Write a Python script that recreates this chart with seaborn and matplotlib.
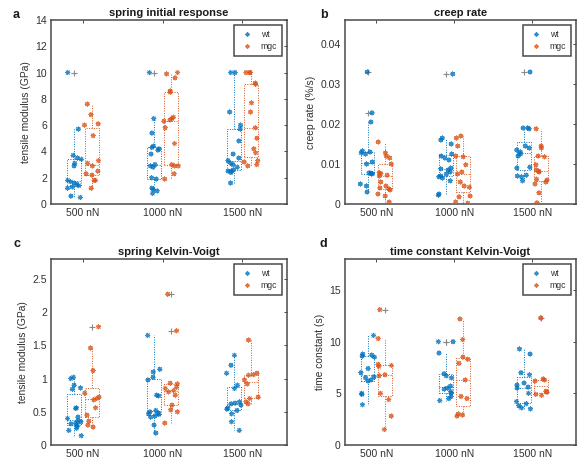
import numpy as np
import pandas as pd
import matplotlib
matplotlib.use("Agg")
import matplotlib.pyplot as plt
from matplotlib.lines import Line2D
from matplotlib.ticker import FuncFormatter
import seaborn as sns

sns.set_style("white")
plt.rcParams["font.family"] = ["Liberation Sans", "DejaVu Sans"]

loads = ["500 nN", "1000 nN", "1500 nN"]
groups = ["wt", "mgc"]
colors = {"wt": "#0072BD", "mgc": "#D95319"}

# spring initial response, tensile modulus (GPa)
a_wt_500 = [10, 5.7, 3.7, 3.5, 3.4, 3.1, 2.9, 1.8, 1.7, 1.6, 1.5, 1.4, 1.3, 1.2, 0.6, 0.5]
a_wt_1000 = [10, 6.5, 5.4, 4.4, 4.3, 4.2, 4.1, 3.8, 3.0, 2.9, 2.8, 2.0, 1.9, 1.2, 1.1, 1.0, 0.8]
a_wt_1500 = [10, 10, 7.0, 6.0, 5.7, 4.8, 3.8, 3.5, 3.3, 3.1, 3.0, 2.8, 2.6, 2.5, 2.5, 2.4, 1.6]
a_mgc_500 = [7.6, 6.8, 6.1, 6.0, 5.2, 3.3, 3.1, 2.9, 2.5, 2.3, 2.2, 1.8, 1.8, 1.2]
a_mgc_1000 = [10, 9.9, 9.6, 8.6, 8.5, 6.6, 6.5, 6.4, 6.3, 5.8, 4.6, 3.0, 2.9, 2.9, 2.3, 1.9]
a_mgc_1500 = [10, 10, 10, 9.2, 9.1, 7.7, 7.0, 5.8, 5.0, 4.2, 3.9, 3.3, 3.2, 3.0, 2.9]

# creep rate (%/s)
b_wt_500 = [0.033, 0.0228, 0.0205, 0.0133, 0.013, 0.0128, 0.0125, 0.0105, 0.010,
            0.0078, 0.0077, 0.0076, 0.0075, 0.005, 0.0045, 0.003]
b_wt_1000 = [0.0325, 0.0165, 0.016, 0.015, 0.0125, 0.012, 0.0115, 0.011, 0.009, 0.0088,
             0.0085, 0.008, 0.0075, 0.007, 0.0068, 0.0065, 0.0058, 0.0025, 0.0022]
b_wt_1500 = [0.033, 0.019, 0.019, 0.0188, 0.0145, 0.014, 0.0135, 0.013, 0.0125, 0.012,
             0.0092, 0.009, 0.0072, 0.007, 0.0068, 0.0058]
b_mgc_500 = [0.0155, 0.0128, 0.012, 0.0115, 0.0100, 0.0078, 0.0076, 0.0072, 0.007, 0.0055,
             0.0045, 0.004, 0.0038, 0.0035, 0.0025, 0.002, 0.0005]
b_mgc_1000 = [0.017, 0.0165, 0.0145, 0.012, 0.0118, 0.0098, 0.008, 0.0075, 0.0055, 0.0045,
              0.0042, 0.002, 0.0018, 0.0005, 0.0002]
b_mgc_1500 = [0.0188, 0.0145, 0.014, 0.012, 0.0118, 0.0098, 0.0085, 0.0082, 0.008, 0.0062,
              0.006, 0.0055, 0.005, 0.0028, 0.0003]

# spring Kelvin-Voigt, tensile modulus (GPa)
c_wt_500 = [1.02, 1.0, 0.9, 0.86, 0.84, 0.56, 0.55, 0.42, 0.4, 0.36, 0.35, 0.33, 0.32,
            0.3, 0.28, 0.25, 0.22, 0.14]
c_wt_1000 = [1.65, 1.14, 1.1, 1.02, 0.98, 0.75, 0.74, 0.52, 0.5, 0.48, 0.47, 0.46, 0.44,
             0.42, 0.3, 0.18]
c_wt_1500 = [1.35, 1.2, 1.08, 0.9, 0.85, 0.65, 0.63, 0.62, 0.6, 0.56, 0.54, 0.52, 0.47,
             0.35, 0.22]
c_mgc_500 = [1.78, 1.46, 1.12, 0.78, 0.72, 0.7, 0.68, 0.56, 0.45, 0.36, 0.3, 0.27]
c_mgc_1000 = [2.27, 1.72, 0.93, 0.92, 0.87, 0.85, 0.82, 0.8, 0.75, 0.6, 0.53, 0.5, 0.33]
c_mgc_1500 = [1.58, 1.08, 1.06, 1.05, 0.98, 0.92, 0.72, 0.7, 0.65, 0.62]

# time constant Kelvin-Voigt (s)
d_wt_500 = [10.6, 8.8, 8.7, 8.6, 8.5, 7.4, 7.0, 6.6, 6.5, 6.3, 6.2, 5.0, 4.9, 3.9]
d_wt_1000 = [10, 10, 8.9, 6.9, 6.7, 6.5, 5.7, 5.5, 5.4, 5.2, 5.0, 4.7, 4.5, 4.3]
d_wt_1500 = [9.3, 8.8, 7.0, 6.8, 6.0, 5.8, 5.6, 5.5, 5.0, 4.2, 4.0, 3.8, 3.6, 3.5]
d_mgc_500 = [13.1, 10.3, 7.8, 7.7, 7.6, 6.8, 6.7, 5.0, 4.4, 2.8, 1.5]
d_mgc_1000 = [12.2, 10.2, 8.5, 8.3, 7.9, 6.3, 4.7, 4.5, 3.0, 2.9, 2.8]
d_mgc_1500 = [12.3, 6.4, 6.3, 6.2, 5.2, 5.1, 4.9, 4.8]

panels = [
    dict(letter="a", title="spring initial response", ylabel="tensile modulus (GPa)",
         wt=[a_wt_500, a_wt_1000, a_wt_1500], mgc=[a_mgc_500, a_mgc_1000, a_mgc_1500],
         ylim=(0, 14), yticks=np.arange(0, 15, 2)),
    dict(letter="b", title="creep rate", ylabel="creep rate (%/s)",
         wt=[b_wt_500, b_wt_1000, b_wt_1500], mgc=[b_mgc_500, b_mgc_1000, b_mgc_1500],
         ylim=(0, 0.046), yticks=[0, 0.01, 0.02, 0.03, 0.04]),
    dict(letter="c", title="spring Kelvin-Voigt", ylabel="tensile modulus (GPa)",
         wt=[c_wt_500, c_wt_1000, c_wt_1500], mgc=[c_mgc_500, c_mgc_1000, c_mgc_1500],
         ylim=(0, 2.8), yticks=[0, 0.5, 1, 1.5, 2, 2.5]),
    dict(letter="d", title="time constant Kelvin-Voigt", ylabel="time constant (s)",
         wt=[d_wt_500, d_wt_1000, d_wt_1500], mgc=[d_mgc_500, d_mgc_1000, d_mgc_1500],
         ylim=(0, 18), yticks=[0, 5, 10, 15]),
]

offsets = {"wt": -0.11, "mgc": 0.11}
positions = np.arange(1, len(loads) + 1)


def long_table(panel):
    rows = []
    for g in groups:
        for i, values in enumerate(panel[g]):
            for v in values:
                rows.append({"group": g, "load": loads[i],
                             "pos": round(positions[i] + offsets[g], 3), "value": v})
    return pd.DataFrame(rows)


fig = plt.figure(figsize=(5.77, 4.61), dpi=100)
W, H = 577.0, 461.0
rects = [
    (51, 20, 287, 204),
    (345, 20, 576, 204),
    (51, 259, 287, 445),
    (345, 259, 576, 445),
]
letter_xy = [(13, 15), (320, 15), (13, 244), (320, 244)]
frame_color = "#4a4a4a"
text_color = "#303030"
dotted = dict(linestyle=(0, (1, 1.5)), linewidth=0.7)

np.random.seed(7)
for panel, (l, t, r, b), (lx, ly) in zip(panels, rects, letter_xy):
    ax = fig.add_axes([l / W, 1 - b / H, (r - l) / W, (b - t) / H])
    df = long_table(panel)

    sns.boxplot(data=df, x="pos", y="value", hue="group", hue_order=groups,
                palette=colors, native_scale=True, dodge=False, fill=False,
                width=0.8, showcaps=False, whis=1.5, legend=False,
                boxprops=dotted, whiskerprops=dotted, medianprops=dotted,
                flierprops=dict(marker="+", markersize=4), ax=ax)
    for cont in ax.containers:
        for fl in getattr(cont, "fliers", []):
            fl.set(marker="+", markeredgecolor="#8a8a8a", markerfacecolor="none",
                   markersize=4, markeredgewidth=0.8, linestyle="none")

    sns.stripplot(data=df, x="pos", y="value", hue="group", hue_order=groups,
                  palette=colors, native_scale=True, dodge=False, jitter=0.43,
                  marker=(8, 2, 0), size=3.2, linewidth=0.6, alpha=0.8,
                  legend=False, ax=ax)

    ax.set_xlim(0.6, 3.56)
    ax.set_ylim(*panel["ylim"])
    ax.set_xticks(positions)
    ax.set_xticklabels(loads)
    ax.set_yticks(panel["yticks"])
    ax.yaxis.set_major_formatter(FuncFormatter(lambda v, p: f"{v:g}"))
    ax.set_xlabel("")
    ax.set_ylabel(panel["ylabel"], fontsize=7.4, color=text_color, labelpad=3)
    ax.set_title(panel["title"], fontsize=8, fontweight="bold", pad=3, color="#1a1a1a")
    ax.tick_params(direction="in", length=2.5, width=0.7, color=frame_color,
                   labelsize=7.5, labelcolor=text_color, top=True, right=True, pad=3)
    for sp in ax.spines.values():
        sp.set_visible(True)
        sp.set_color(frame_color)
        sp.set_linewidth(1.1)
    ax.grid(False)

    handles = [Line2D([], [], linestyle="none", marker=(8, 2, 0), markersize=3.2,
                      markeredgewidth=0.6, color=colors[g], alpha=0.8) for g in groups]
    leg = ax.legend(handles, groups, loc="upper right", fontsize=6.2, frameon=True,
                    fancybox=False, framealpha=1, borderpad=0.55, handlelength=1.8,
                    handletextpad=0.7, labelspacing=0.4, borderaxespad=0.6)
    leg.get_frame().set_edgecolor(frame_color)
    leg.get_frame().set_linewidth(1.1)
    for txt in leg.get_texts():
        txt.set_color(text_color)

    fig.text(lx / W, 1 - ly / H, panel["letter"], fontsize=9, fontweight="bold",
             ha="left", va="center", color="#1a1a1a")

fig.savefig("out.png", dpi=100, facecolor="white")
